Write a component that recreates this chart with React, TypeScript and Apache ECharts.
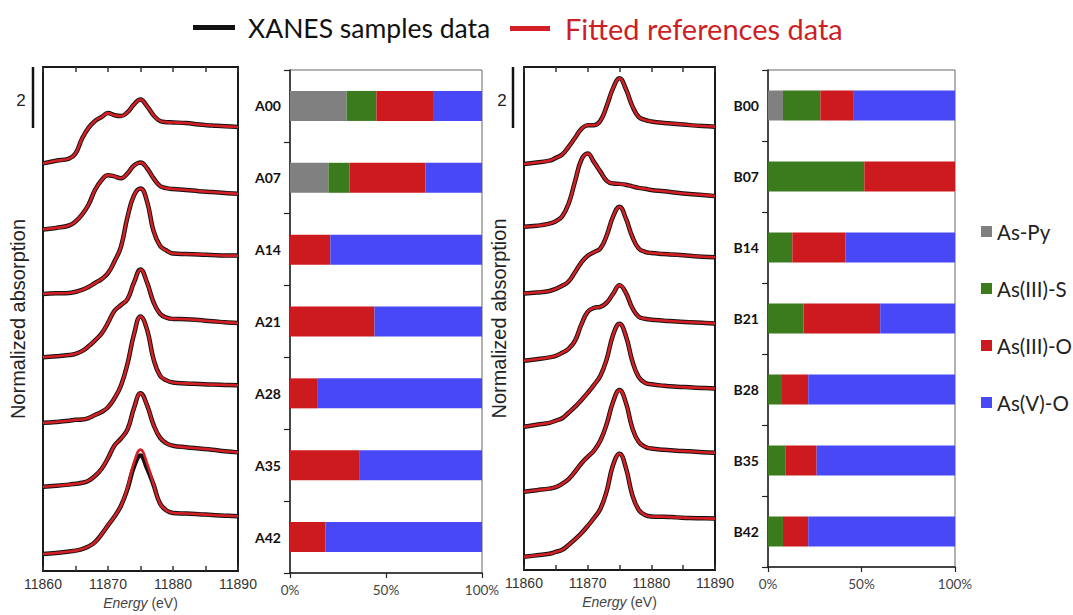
import React, { useEffect, useRef } from "react";
import * as echarts from "echarts";

// ---------- DATA ----------
const energies = [11860, 11862, 11864, 11865, 11866, 11867, 11868, 11869, 11870, 11871, 11872, 11873, 11874, 11875, 11876, 11877, 11878, 11879, 11880, 11882, 11884, 11886, 11888, 11890];

const samplesA = ["A00", "A07", "A14", "A21", "A28", "A35", "A42"];
const samplesB = ["B00", "B07", "B14", "B21", "B28", "B35", "B42"];

// vertical stacking offsets of the spectra (absorption units)
const offsetsA = [13.53, 11.34, 9.2, 7.1, 4.92, 2.8, 0.57];
const offsetsB = [13.27, 11.22, 9.04, 6.84, 4.68, 2.56, 0.43];

// normalized absorption of the samples (A series)
const xanesA00 = [0, 0.09, 0.16, 0.33, 0.82, 1.18, 1.41, 1.54, 1.67, 1.6, 1.57, 1.7, 1.96, 2.12, 1.9, 1.6, 1.41, 1.37, 1.36, 1.34, 1.29, 1.26, 1.23, 1.21];
const xanesA07 = [0, 0.05, 0.13, 0.26, 0.49, 0.82, 1.31, 1.63, 1.8, 1.76, 1.7, 1.86, 2.12, 2.22, 2.03, 1.7, 1.44, 1.37, 1.34, 1.31, 1.27, 1.24, 1.21, 1.18];
const xanesA14 = [0, 0.02, 0.03, 0.07, 0.13, 0.23, 0.36, 0.49, 0.69, 1.08, 1.57, 2.55, 3.27, 3.5, 3.07, 2.09, 1.6, 1.44, 1.34, 1.32, 1.31, 1.29, 1.27, 1.27];
const xanesA21 = [0, 0.03, 0.07, 0.11, 0.2, 0.36, 0.56, 0.78, 1.14, 1.54, 1.73, 1.93, 2.48, 2.91, 2.48, 1.83, 1.44, 1.31, 1.27, 1.26, 1.23, 1.19, 1.16, 1.13];
const xanesA28 = [0, 0.03, 0.07, 0.1, 0.11, 0.16, 0.26, 0.36, 0.52, 0.82, 1.24, 1.96, 2.94, 3.53, 3.1, 2.12, 1.57, 1.41, 1.34, 1.31, 1.29, 1.27, 1.26, 1.25];
const xanesA35 = [0, 0.03, 0.07, 0.1, 0.13, 0.2, 0.36, 0.59, 0.95, 1.37, 1.6, 1.9, 2.61, 3.1, 2.71, 2.06, 1.63, 1.44, 1.36, 1.31, 1.27, 1.23, 1.18, 1.14];
const xanesA42 = [0, 0.03, 0.08, 0.11, 0.16, 0.25, 0.39, 0.65, 0.95, 1.24, 1.6, 2.16, 2.9, 3.27, 2.85, 2.3, 1.67, 1.44, 1.36, 1.34, 1.32, 1.29, 1.27, 1.25];
const fitA42 = [0, 0.03, 0.08, 0.11, 0.16, 0.25, 0.39, 0.65, 0.95, 1.24, 1.6, 2.19, 3.04, 3.46, 3.01, 2.32, 1.67, 1.44, 1.36, 1.34, 1.32, 1.29, 1.27, 1.25];

// normalized absorption of the samples (B series)
const xanesB00 = [0, 0.05, 0.11, 0.2, 0.31, 0.56, 0.85, 1.14, 1.27, 1.27, 1.41, 1.9, 2.48, 2.8, 2.45, 1.9, 1.54, 1.44, 1.39, 1.34, 1.31, 1.27, 1.24, 1.22];
const xanesB07 = [0, 0.03, 0.1, 0.18, 0.34, 0.75, 1.47, 2.18, 2.39, 2.11, 1.8, 1.5, 1.41, 1.4, 1.37, 1.32, 1.27, 1.24, 1.2, 1.16, 1.11, 1.07, 1.04, 1.0];
const xanesB14 = [0, 0.03, 0.08, 0.15, 0.25, 0.39, 0.69, 1.01, 1.23, 1.35, 1.47, 1.9, 2.52, 2.83, 2.45, 1.86, 1.47, 1.36, 1.32, 1.29, 1.26, 1.23, 1.2, 1.18];
const xanesB21 = [0, 0.05, 0.11, 0.16, 0.26, 0.39, 0.65, 1.18, 1.6, 1.73, 1.76, 1.9, 2.19, 2.47, 2.22, 1.73, 1.44, 1.37, 1.34, 1.31, 1.28, 1.26, 1.24, 1.22];
const xanesB28 = [0, 0.07, 0.13, 0.2, 0.28, 0.46, 0.65, 0.87, 1.11, 1.37, 1.67, 2.22, 3.01, 3.37, 2.97, 2.16, 1.63, 1.44, 1.39, 1.34, 1.31, 1.29, 1.27, 1.25];
const xanesB35 = [0, 0.05, 0.1, 0.15, 0.26, 0.41, 0.65, 0.92, 1.14, 1.34, 1.67, 2.22, 2.94, 3.32, 2.91, 2.09, 1.63, 1.47, 1.41, 1.37, 1.34, 1.32, 1.29, 1.27];
const xanesB42 = [0, 0.05, 0.1, 0.16, 0.23, 0.39, 0.57, 0.77, 1.01, 1.27, 1.57, 2.16, 3.01, 3.37, 2.91, 2.03, 1.54, 1.37, 1.32, 1.31, 1.29, 1.27, 1.26, 1.25];

const sampleCurvesA = [xanesA00, xanesA07, xanesA14, xanesA21, xanesA28, xanesA35, xanesA42];
const fitCurvesA = [xanesA00, xanesA07, xanesA14, xanesA21, xanesA28, xanesA35, fitA42];
const sampleCurvesB = [xanesB00, xanesB07, xanesB14, xanesB21, xanesB28, xanesB35, xanesB42];
const fitCurvesB = sampleCurvesB;

// linear combination fit fractions (%)
const speciesNames = ["As-Py", "As(III)-S", "As(III)-O", "As(V)-O"];
const asPyA = [29.5, 20, 0, 0, 0, 0, 0];
const asIIISA = [15.5, 11, 0, 0, 0, 0, 0];
const asIIIOA = [29.5, 39.5, 21, 44, 14.5, 36, 18.5];
const asVOA = [25.5, 29.5, 79, 56, 85.5, 64, 81.5];
const asPyB = [8, 0, 0, 0, 0, 0, 0];
const asIIISB = [20, 51.5, 13, 19, 7, 9.5, 8];
const asIIIOB = [17.5, 48.5, 28.5, 41, 14.5, 16.5, 13.5];
const asVOB = [54.5, 0, 58.5, 40, 78.5, 74, 78.5];

const pctTicks = [0, 50, 100];

// ---------- STYLE ----------
const speciesColors = ["#808080", "#3c7a1e", "#cc1a1f", "#4848f6"];
const sampleColor = "#111111";
const fitColor = "#d42024";
const numFont = "Liberation Sans";
const calFont = "Lato";

export default function App() {
  const ref = useRef<HTMLDivElement>(null);

  useEffect(() => {
    if (!ref.current) return;
    const chart = echarts.init(ref.current, undefined, { renderer: "svg" });

    const grids = [
      { left: 43, top: 67, width: 195, height: 512, show: true, borderColor: "#1a1a1a", borderWidth: 2 },
      { left: 290, top: 70, width: 192, height: 503, show: true, borderColor: "#666", borderWidth: 1 },
      { left: 524, top: 67, width: 191, height: 503, show: true, borderColor: "#1a1a1a", borderWidth: 2 },
      { left: 768, top: 70, width: 187, height: 497, show: true, borderColor: "#666", borderWidth: 1 },
    ];

    const energyAxis = (gridIndex: number) => ({
      type: "value",
      gridIndex,
      min: 11860,
      max: 11890,
      interval: 5,
      axisLine: { show: false },
      axisTick: { show: true, inside: true, length: 5, lineStyle: { color: "#333", width: 1.5 } },
      splitLine: { show: false },
      axisLabel: {
        formatter: (v: number) => (v % 10 === 0 ? String(v) : ""),
        fontFamily: numFont,
        fontSize: 14,
        color: "#333",
        margin: 6,
      },
      name: "{i|Energy} (eV)",
      nameLocation: "middle",
      nameGap: 24,
      nameTextStyle: {
        fontFamily: numFont,
        fontSize: 14,
        color: "#444",
        rich: { i: { fontStyle: "italic", fontFamily: numFont, fontSize: 14, color: "#444" } },
      },
    });
    const energyTopAxis = (gridIndex: number) => ({
      type: "value",
      gridIndex,
      position: "top",
      min: 11860,
      max: 11890,
      interval: 5,
      axisLine: { show: false },
      axisTick: { show: true, inside: true, length: 5, lineStyle: { color: "#333", width: 1.5 } },
      splitLine: { show: false },
      axisLabel: { show: false },
    });
    const pctAxis = (gridIndex: number) => ({
      type: "value",
      gridIndex,
      min: pctTicks[0],
      max: pctTicks[pctTicks.length - 1],
      interval: pctTicks[1] - pctTicks[0],
      axisLine: { show: true, lineStyle: { color: "#222", width: 1.5 } },
      axisTick: { show: true, length: 5, lineStyle: { color: "#222", width: 1.2 } },
      splitLine: { show: false },
      axisLabel: { formatter: "{value}%", fontFamily: calFont, fontSize: 13.5, color: "#444", margin: 10 },
    });

    const absAxis = (gridIndex: number, max: number) => ({
      type: "value",
      gridIndex,
      min: 0,
      max,
      axisLine: { show: false },
      axisTick: { show: false },
      axisLabel: { show: false },
      splitLine: { show: false },
      name: "Normalized absorption",
      nameLocation: "middle",
      nameGap: 15,
      nameTextStyle: { fontFamily: numFont, fontSize: 20, color: "#222" },
    });
    const catAxis = (gridIndex: number, cats: string[]) => ({
      type: "category",
      gridIndex,
      data: cats,
      inverse: true,
      axisLine: { show: true, lineStyle: { color: "#222", width: 1.5 } },
      axisTick: { show: true, length: 6, lineStyle: { color: "#222", width: 1.2 } },
      axisLabel: { fontFamily: calFont, fontWeight: "bold", fontSize: 14, color: "#111", margin: 9 },
    });

    const series: any[] = [];
    const addSpectra = (axisIdx: number, offsets: number[], samples: number[][], fits: number[][]) => {
      samples.forEach((curve, k) => {
        series.push({
          type: "line",
          name: "XANES samples data",
          xAxisIndex: axisIdx,
          yAxisIndex: axisIdx,
          data: energies.map((e, i) => [e, offsets[k] + curve[i]]),
          showSymbol: false,
          symbol: "none",
          smooth: 0.45,
          color: sampleColor,
          lineStyle: { color: sampleColor, width: 4.5 },
          z: 2,
        });
      });
      fits.forEach((curve, k) => {
        series.push({
          type: "line",
          name: "Fitted references data",
          xAxisIndex: axisIdx,
          yAxisIndex: axisIdx,
          data: energies.map((e, i) => [e, offsets[k] + curve[i]]),
          showSymbol: false,
          symbol: "none",
          smooth: 0.45,
          color: fitColor,
          lineStyle: { color: fitColor, width: 2.6 },
          z: 3,
        });
      });
    };
    addSpectra(0, offsetsA, sampleCurvesA, fitCurvesA);
    addSpectra(2, offsetsB, sampleCurvesB, fitCurvesB);

    const addBars = (axisIdx: number, sets: number[][]) => {
      sets.forEach((vals, s) => {
        series.push({
          type: "bar",
          name: speciesNames[s],
          xAxisIndex: axisIdx,
          yAxisIndex: axisIdx,
          stack: "frac" + axisIdx,
          barWidth: 30,
          data: vals,
          color: speciesColors[s],
          itemStyle: { color: speciesColors[s] },
        });
      });
    };
    addBars(1, [asPyA, asIIISA, asIIIOA, asVOA]);
    addBars(3, [asPyB, asIIISB, asIIIOB, asVOB]);

    const option: any = {
      animation: false,
      backgroundColor: "#ffffff",
      grid: grids,
      xAxis: [energyAxis(0), pctAxis(1), energyAxis(2), pctAxis(3), energyTopAxis(0), energyTopAxis(2)],
      yAxis: [absAxis(0, 16.73), catAxis(1, samplesA), absAxis(2, 16.44), catAxis(3, samplesB)],
      legend: [
        {
          left: 188,
          top: 9,
          icon: "rect",
          itemWidth: 42,
          itemHeight: 5,
          selectedMode: false,
          data: [{ name: "XANES samples data", textStyle: { color: "#111" } }],
          textStyle: { fontFamily: calFont, fontSize: 26.5, padding: [0, 0, 0, 8] },
        },
        {
          left: 505,
          top: 9,
          icon: "rect",
          itemWidth: 40,
          itemHeight: 5,
          selectedMode: false,
          data: [{ name: "Fitted references data", textStyle: { color: "#cc1f26" } }],
          textStyle: { fontFamily: calFont, fontSize: 29, padding: [0, 0, 0, 10] },
        },
        {
          left: 976,
          top: 216,
          orient: "vertical",
          icon: "rect",
          itemWidth: 11,
          itemHeight: 11,
          itemGap: 36,
          selectedMode: false,
          data: speciesNames,
          textStyle: { fontFamily: calFont, fontSize: 20.5, color: "#222", lineHeight: 21, padding: [0, 0, 0, 0] },
        },
      ],
      graphic: [
        { type: "line", shape: { x1: 33, y1: 67, x2: 33, y2: 128 }, style: { stroke: "#111", lineWidth: 2.5 } },
        { type: "text", x: 21, y: 100, style: { text: "2", fontFamily: numFont, fontSize: 17, fill: "#222", textAlign: "center", textVerticalAlign: "middle" } },
        { type: "line", shape: { x1: 513, y1: 67, x2: 513, y2: 128 }, style: { stroke: "#111", lineWidth: 2.5 } },
        { type: "text", x: 502, y: 100, style: { text: "2", fontFamily: numFont, fontSize: 17, fill: "#222", textAlign: "center", textVerticalAlign: "middle" } },
      ],
      series,
    };
    chart.setOption(option);
    return () => chart.dispose();
  }, []);

  return (
    <div
      ref={ref}
      style={{ position: "fixed", left: 0, top: 0, width: 1073, height: 615, background: "#fff" }}
    />
  );
}
